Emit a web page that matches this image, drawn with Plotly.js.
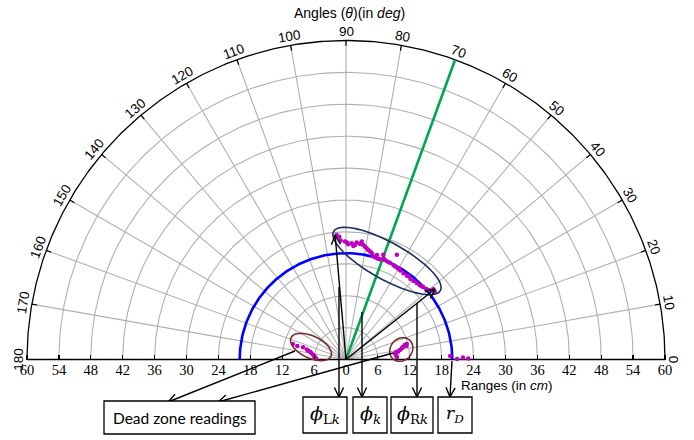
<!DOCTYPE html>
<html><head><meta charset="utf-8">
<script src="https://cdn.plot.ly/plotly-3.0.1.min.js"></script>
<style>html,body{margin:0;padding:0;background:#fff}</style>
</head><body><div id="chart" style="width:694px;height:440px"></div>
<script>
// ---------- data ----------
const angleTicks = [0,10,20,30,40,50,60,70,80,90,100,110,120,130,140,150,160,170,180];
const rangeTickVals = [-60,-54,-48,-42,-36,-30,-24,-18,-12,-6,0,6,12,18,24,30,36,42,48,54,60];
const rangeTickText = ['60','54','48','42','36','30','24','18','12','6','0','6','12','18','24','30','36','42','48','54','60'];
const gridRanges = [6,12,18,24,30,36,42,48,54];
const maxRange = 60;
const deadZoneRadius = 20;     // r_D
const headingAngle = 70;       // green line

// sensor readings (range cm, angle deg)
const mainRange = [23.5,23.1,22.4,22.2,21.7,21.9,21.4,22.1,21.9,22.4,21.8,21.5,21.3,21.0,20.8,20.6,20.1,20.0,19.9,19.9,20.9,20.1,20.0,20.0,19.9,21.9,19.8,19.8,19.6,19.5,19.5,19.4,19.5,19.6,19.7,19.9,20.1,20.4,21.1,21.0,21.6,22.0,20.5,20.3,19.7,19.6,19.8];
const mainTheta = [94.3,93.1,92.6,90.5,88.9,87.2,86.3,84.8,83.1,82.4,81.4,80.4,79.5,78.5,77.4,76.4,75.2,74.2,72.8,71.3,70.4,68.6,67.1,65.6,63.4,64.1,62.2,59.7,58.7,56.3,54.0,51.3,49.2,47.2,45.2,43.2,41.3,39.6,38.8,37.3,85.5,89.5,73.5,69.5,60.5,53.0,44.0];
const leftDeadRange = [10.4,9.5,8.4,7.6,7.3,6.9,6.6,6.2,6.0,5.9,5.7,5.6];
const leftDeadTheta = [163.8,164.5,164.1,165.5,166.9,167.8,169.8,172.2,173.7,175.9,177.5,178.8];
const rightDeadRange = [9.3,9.4,9.6,9.9,10.3,10.7,11.0,11.4,11.8,11.6,9.6];
const rightDeadTheta = [7.2,5.1,8.7,8.5,10.0,11.4,12.6,13.8,14.3,12.7,2.8];
const edgeRange = [19.6,20.9,22.0,23.0];
const edgeTheta = [1.9,0.3,1.0,0.5];
// limiting vectors phi_L and phi_R
const vectorRange = [23.5,21.35];
const vectorTheta = [95.0,38.4];

// ---------- geometry helpers ----------
const PX = 319/60, CX = 346, CY = 359.5;
const X = px => (px - CX)/PX, Y = py => (CY - py)/PX;
const rad = d => d*Math.PI/180;
const polX = (r,t) => r*Math.cos(rad(t));
const polY = (r,t) => r*Math.sin(rad(t));
const toPxX = (r,t) => CX + polX(r,t)*PX;
const toPxY = (r,t) => CY - polY(r,t)*PX;

const traces = [];
// grid circles and spokes
(function(){
  const xs=[], ys=[];
  gridRanges.forEach(r=>{ for(let a=0;a<=180;a+=1){xs.push(polX(r,a));ys.push(polY(r,a));} xs.push(null);ys.push(null);});
  angleTicks.slice(1,-1).forEach(a=>{xs.push(0,polX(maxRange,a),null);ys.push(0,polY(maxRange,a),null);});
  traces.push({x:xs,y:ys,mode:'lines',line:{color:'#b0b0b0',width:1.1},hoverinfo:'skip'});
})();
// outer arc + baseline
(function(){
  const xs=[], ys=[];
  for(let a=0;a<=180;a+=0.5){xs.push(polX(maxRange,a));ys.push(polY(maxRange,a));}
  xs.push(null,-maxRange,maxRange); ys.push(null,0,0);
  traces.push({x:xs,y:ys,mode:'lines',line:{color:'#000',width:1.3},hoverinfo:'skip'});
  const tx=[], ty=[];
  angleTicks.slice(1,-1).forEach(a=>{tx.push(polX(maxRange-1,a),polX(maxRange,a),null);ty.push(polY(maxRange-1,a),polY(maxRange,a),null);});
  traces.push({x:tx,y:ty,mode:'lines',line:{color:'#000',width:1.2},hoverinfo:'skip'});
})();
// dead zone radius circle
(function(){
  const xs=[], ys=[];
  for(let a=0;a<=180;a+=0.5){xs.push(polX(deadZoneRadius,a));ys.push(polY(deadZoneRadius,a));}
  traces.push({x:xs,y:ys,mode:'lines',line:{color:'#0000ff',width:2.6},hoverinfo:'skip'});
})();
// heading line
traces.push({x:[0,polX(maxRange,headingAngle)],y:[0,polY(maxRange,headingAngle)],mode:'lines',line:{color:'#00a651',width:2.6},hoverinfo:'skip'});
// readings
function pts(R,T){return {x:R.map((r,i)=>polX(r,T[i])),y:R.map((r,i)=>polY(r,T[i])),mode:'markers',marker:{color:'#bf00bf',size:4.5},cliponaxis:false,hoverinfo:'skip'};}
traces.push(pts(mainRange,mainTheta),pts(leftDeadRange,leftDeadTheta),pts(rightDeadRange,rightDeadTheta),pts(edgeRange,edgeTheta));

// ---------- shapes ----------
const shapes = [];
function lineShape(x0,y0,x1,y1,color,w){shapes.push({type:'line',xref:'x',yref:'y',x0:X(x0),y0:Y(y0),x1:X(x1),y1:Y(y1),line:{color:color||'#000',width:w||1.4}});}
function arrowPx(x0,y0,x1,y1){
  lineShape(x0,y0,x1,y1);
  const ang=Math.atan2(y1-y0,x1-x0), L=10.5, sp=0.45;
  [-1,1].forEach(s=>{const a=ang+Math.PI+s*sp; lineShape(x1,y1,x1+L*Math.cos(a),y1+L*Math.sin(a));});
}
function ellipse(cx,cy,a,b,rot,color){
  const f=rad(rot); let d='';
  for(let i=0;i<=72;i++){const t=2*Math.PI*i/72;
    const px=cx+a*Math.cos(t)*Math.cos(f)-b*Math.sin(t)*Math.sin(f);
    const py=cy+a*Math.cos(t)*Math.sin(f)+b*Math.sin(t)*Math.cos(f);
    d+=(i?'L':'M')+X(px).toFixed(3)+','+Y(py).toFixed(3);}
  shapes.push({type:'path',xref:'x',yref:'y',path:d+'Z',line:{color:color,width:1.6}});
}
function box(x0,y0,x1,y1){shapes.push({type:'rect',xref:'x',yref:'y',x0:X(x0),x1:X(x1),y0:Y(y1),y1:Y(y0),line:{color:'#000',width:1.3},fillcolor:'#fff'});}

ellipse(387,261,61,18.5,29,'#1c3160');
ellipse(311,347,22,11,25,'#7a2b2b');
ellipse(401.3,349.5,12.5,10.8,-50,'#7a2b2b');

// vectors phi_L, phi_R
vectorRange.forEach((r,i)=>arrowPx(CX,CY,toPxX(r,vectorTheta[i]),toPxY(r,vectorTheta[i])));
// callout arrows
arrowPx(339,287,339,397);
arrowPx(362,312,362,397);
arrowPx(417,303,417,397);
arrowPx(452,361,450,397);
arrowPx(295,351,168,402);
arrowPx(393,353,218,402);
// boxes
box(104,401,255,434);
box(303,397,347,433);
box(353,397,387,433);
box(391,397,433,433);
box(438,397,472,433);

// ---------- annotations ----------
const annotations = [];
const labelR = 327.7/PX;
angleTicks.forEach(a=>annotations.push({xref:'x',yref:'y',x:polX(labelR,a),y:polY(labelR,a),text:String(a),showarrow:false,textangle:90-a,xanchor:'center',yanchor:'middle',font:{family:'Liberation Sans',size:13.5,color:'#000'}}));
annotations.push({xref:'x',yref:'y',x:X(349),y:Y(13),text:'Angles (<i>θ</i>)(in <i>deg</i>)',showarrow:false,font:{family:'Liberation Sans',size:14,color:'#000'}});
annotations.push({xref:'x',yref:'y',x:X(507),y:Y(385),text:'Ranges (in <i>cm</i>)',showarrow:false,font:{family:'Liberation Sans',size:13.5,color:'#000'}});
annotations.push({xref:'x',yref:'y',x:X(179.5),y:Y(418),text:'Dead zone readings',showarrow:false,font:{family:'Lato',size:15.5,color:'#000'}});
const phiFont={family:'DejaVu Serif',size:19,color:'#000'};
annotations.push({xref:'x',yref:'y',x:X(325),y:Y(414),text:'<i>ϕ</i><sub>L<i>k</i></sub>',showarrow:false,font:phiFont});
annotations.push({xref:'x',yref:'y',x:X(370),y:Y(414),text:'<i>ϕ</i><sub><i>k</i></sub>',showarrow:false,font:phiFont});
annotations.push({xref:'x',yref:'y',x:X(412),y:Y(414),text:'<i>ϕ</i><sub>R<i>k</i></sub>',showarrow:false,font:phiFont});
annotations.push({xref:'x',yref:'y',x:X(455),y:Y(414),text:'<i>r</i><sub><i>D</i></sub>',showarrow:false,font:{family:'DejaVu Serif',size:17,color:'#000'}});

const layout = {
  width:694,height:440,margin:{l:0,r:0,t:0,b:0},paper_bgcolor:'#fff',plot_bgcolor:'#fff',showlegend:false,
  xaxis:{range:[X(0),X(694)],anchor:'free',position:(440-CY)/440,tickmode:'array',tickvals:rangeTickVals,ticktext:rangeTickText,
    ticks:'inside',ticklen:5,tickwidth:1.2,tickcolor:'#000',tickangle:0,showline:false,showgrid:false,zeroline:false,
    tickfont:{family:'Liberation Serif',size:14.5,color:'#000'},fixedrange:true},
  yaxis:{range:[Y(440),Y(0)],visible:false,fixedrange:true},
  shapes:shapes,annotations:annotations
};
Plotly.newPlot('chart',traces,layout,{displayModeBar:false,staticPlot:true});
</script></body></html>
